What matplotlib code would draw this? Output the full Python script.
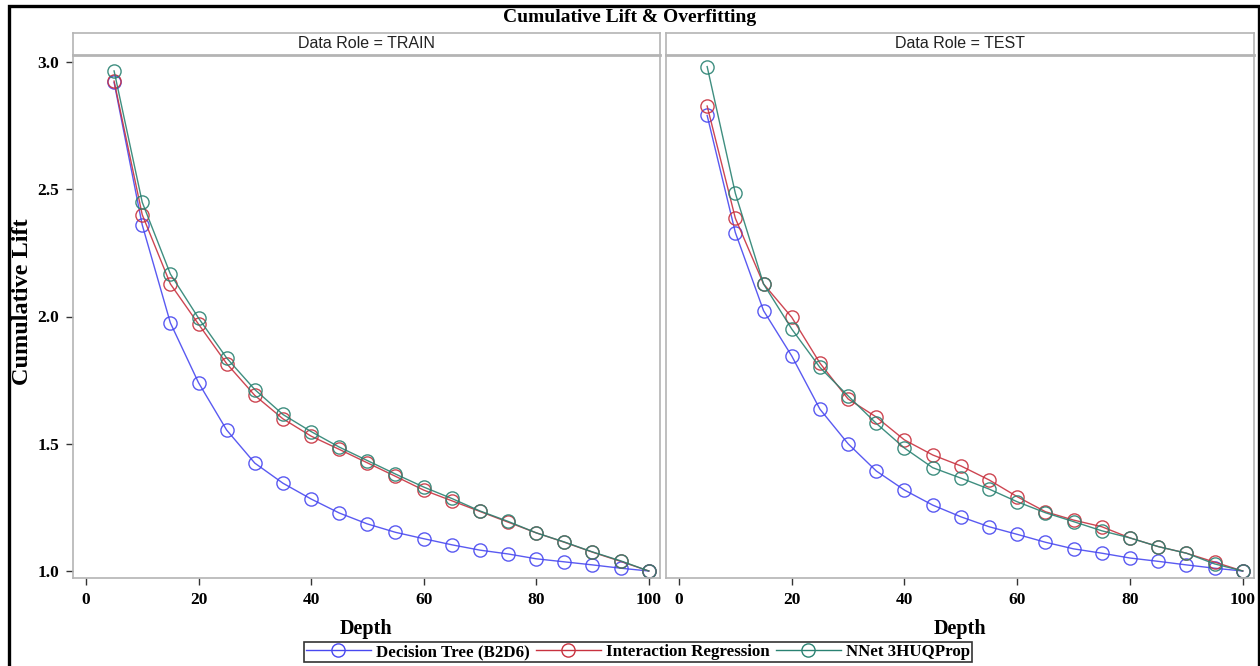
import matplotlib
matplotlib.use('Agg')
import matplotlib.pyplot as plt
from matplotlib.patches import Rectangle
from matplotlib.lines import Line2D

# depth percentiles shared by all series
depth = [5, 10, 15, 20, 25, 30, 35, 40, 45, 50, 55, 60, 65, 70, 75, 80, 85, 90, 95, 100]

# TRAIN role
tree_train = [2.92, 2.36, 1.975, 1.74, 1.554, 1.424, 1.345, 1.283, 1.228, 1.185,
              1.152, 1.127, 1.103, 1.082, 1.067, 1.048, 1.036, 1.024, 1.011, 1.0]
reg_train = [2.925, 2.40, 2.128, 1.97, 1.815, 1.69, 1.598, 1.53, 1.478, 1.425,
             1.372, 1.318, 1.276, 1.234, 1.192, 1.15, 1.113, 1.074, 1.038, 1.0]
nnet_train = [2.965, 2.449, 2.167, 1.994, 1.837, 1.713, 1.615, 1.548, 1.487, 1.434,
              1.381, 1.330, 1.285, 1.236, 1.195, 1.150, 1.114, 1.075, 1.040, 1.0]

# TEST role
tree_test = [2.79, 2.33, 2.023, 1.845, 1.636, 1.50, 1.393, 1.318, 1.259, 1.213,
             1.174, 1.144, 1.113, 1.087, 1.07, 1.051, 1.038, 1.024, 1.011, 1.0]
reg_test = [2.827, 2.386, 2.128, 1.997, 1.817, 1.676, 1.605, 1.515, 1.456, 1.413,
            1.358, 1.292, 1.233, 1.20, 1.174, 1.13, 1.096, 1.07, 1.035, 1.0]
nnet_test = [2.982, 2.484, 2.128, 1.951, 1.80, 1.688, 1.58, 1.483, 1.406, 1.365,
             1.322, 1.272, 1.229, 1.194, 1.158, 1.13, 1.096, 1.07, 1.028, 1.0]

model_names = ['Decision Tree (B2D6)', 'Interaction Regression', 'NNet 3HUQProp']
colors = ['#4848f0', '#c8323f', '#2a8272']
roles = ['TRAIN', 'TEST']

W, H = 1260, 666
fig = plt.figure(figsize=(12.6, 6.66), dpi=100)
serif = 'Liberation Serif'
sans = 'Liberation Sans'

# outer black frame
fig.patches.append(Rectangle((9 / W, -0.01), (1259 - 9) / W, 1 - 6 / H + 0.01,
                             transform=fig.transFigure, fill=False,
                             edgecolor='black', linewidth=2.4, zorder=0))

fig.text(0.5, 1 - 18 / H, 'Cumulative Lift & Overfitting', ha='center', va='center',
         family=serif, fontweight='bold', fontsize=14)

panels = [(73, 660), (666, 1254)]
data = {'TRAIN': [tree_train, reg_train, nnet_train],
        'TEST': [tree_test, reg_test, nnet_test]}
top, bottom, strip_top = 55, 578, 33
grey = '#b4b4b4'

for k, (x0, x1) in enumerate(panels):
    ax = fig.add_axes([x0 / W, 1 - bottom / H, (x1 - x0) / W, (bottom - top) / H])
    for name, series, c in zip(model_names, data[roles[k]], colors):
        ax.plot(depth, series, color=c, linewidth=1.0, marker='o', markersize=9.5,
                markerfacecolor='none', markeredgecolor=c, markeredgewidth=1.0,
                alpha=0.9, label=name)
    ax.set_xlim(-2.3, 102)
    ax.set_ylim(0.9725, 3.0275)
    ax.set_xticks([0, 20, 40, 60, 80, 100])
    ax.set_yticks([1.0, 1.5, 2.0, 2.5, 3.0])
    ax.set_yticklabels(['1.0', '1.5', '2.0', '2.5', '3.0'])
    for s in ax.spines.values():
        s.set_color(grey)
        s.set_linewidth(1.2)
    ax.tick_params(direction='out', length=5, width=1, color='#333333', pad=5)
    for lab in ax.get_xticklabels() + ax.get_yticklabels():
        lab.set_family(serif)
        lab.set_fontweight('bold')
        lab.set_fontsize(12.5)
    if k == 1:
        ax.tick_params(axis='y', left=False, labelleft=False)
    ax.set_xlabel('Depth', family=serif, fontweight='bold', fontsize=14.5, labelpad=8)

    # header strip
    sax = fig.add_axes([x0 / W, 1 - top / H, (x1 - x0) / W, (top - strip_top) / H])
    sax.set_xticks([])
    sax.set_yticks([])
    for s in sax.spines.values():
        s.set_color(grey)
        s.set_linewidth(1.2)
    sax.spines['bottom'].set_linewidth(2)
    sax.text(0.5, 0.5, 'Data Role = ' + roles[k], ha='center', va='center',
             transform=sax.transAxes, family=sans, fontsize=11.5, color='#222222')

fig.text(23 / W, 1 - 302 / H, 'Cumulative Lift', rotation=90, ha='center', va='center',
         family=serif, fontweight='bold', fontsize=17.5)

handles = [Line2D([], [], color=c, linewidth=1.0, marker='o', markersize=9.5,
                  markerfacecolor='none', markeredgecolor=c) for c in colors]
leg = fig.legend(handles, model_names, loc='center', bbox_to_anchor=(638 / W, 1 - 652 / H),
                 ncol=3, frameon=True, fancybox=False, handlelength=3.8,
                 handletextpad=0.3, columnspacing=0.4, borderpad=0.12,
                 prop={'family': serif, 'weight': 'bold', 'size': 12.2})
leg.get_frame().set_edgecolor('black')
leg.get_frame().set_linewidth(1.2)

fig.savefig('out.png', dpi=100)
